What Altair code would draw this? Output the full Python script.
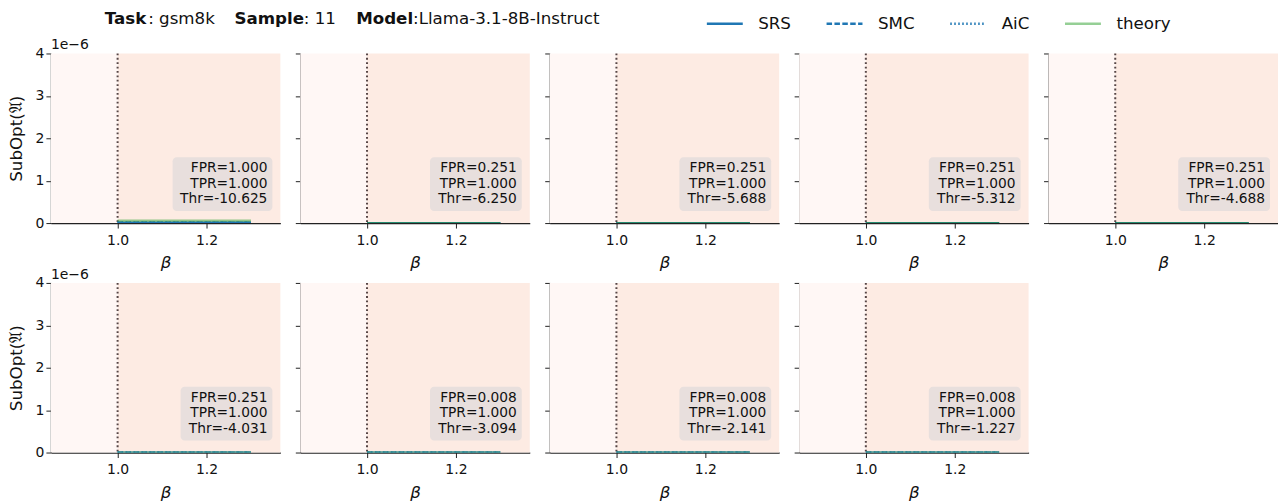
import altair as alt
import pandas as pd

# ---------------- data ----------------
betas = [1.0, 1.1, 1.2, 1.3]
series_names = ["SRS", "SMC", "AiC", "theory"]
series_colors = ["#1f77b4", "#1f77b4", "#1f77b4", "rgba(44,160,44,0.5)"]
series_dash = [[1, 0], [5.5, 2.4], [1.5, 2.5], [1, 0]]

fpr = [1.000, 0.251, 0.251, 0.251, 0.251, 0.251, 0.008, 0.008, 0.008]
tpr = [1.000, 1.000, 1.000, 1.000, 1.000, 1.000, 1.000, 1.000, 1.000]
thr = [-10.625, -6.250, -5.688, -5.312, -4.688, -4.031, -3.094, -2.141, -1.227]

srs = [
    [1.0e-8, 1.0e-8, 1.0e-8, 1.0e-8],
    [0.0, 0.0, 0.0, 0.0],
    [0.0, 0.0, 0.0, 0.0],
    [0.0, 0.0, 0.0, 0.0],
    [0.0, 0.0, 0.0, 0.0],
    [0.0, 0.0, 0.0, 0.0],
    [0.0, 0.0, 0.0, 0.0],
    [0.0, 0.0, 0.0, 0.0],
    [0.0, 0.0, 0.0, 0.0],
]
smc = [
    [1.0e-8, 1.0e-8, 1.0e-8, 1.0e-8],
    [0.0, 0.0, 0.0, 0.0],
    [0.0, 0.0, 0.0, 0.0],
    [0.0, 0.0, 0.0, 0.0],
    [0.0, 0.0, 0.0, 0.0],
    [0.0, 0.0, 0.0, 0.0],
    [0.0, 0.0, 0.0, 0.0],
    [0.0, 0.0, 0.0, 0.0],
    [0.0, 0.0, 0.0, 0.0],
]
aic = [
    [1.0e-8, 1.0e-8, 1.0e-8, 1.0e-8],
    [0.0, 0.0, 0.0, 0.0],
    [0.0, 0.0, 0.0, 0.0],
    [0.0, 0.0, 0.0, 0.0],
    [0.0, 0.0, 0.0, 0.0],
    [0.0, 0.0, 0.0, 0.0],
    [0.0, 0.0, 0.0, 0.0],
    [0.0, 0.0, 0.0, 0.0],
    [0.0, 0.0, 0.0, 0.0],
]
theory = [
    [6.0e-8, 6.0e-8, 6.0e-8, 6.0e-8],
    [1.0e-9, 1.0e-9, 1.0e-9, 1.0e-9],
    [1.0e-9, 1.0e-9, 1.0e-9, 1.0e-9],
    [1.0e-9, 1.0e-9, 1.0e-9, 1.0e-9],
    [1.0e-9, 1.0e-9, 1.0e-9, 1.0e-9],
    [1.0e-9, 1.0e-9, 1.0e-9, 1.0e-9],
    [1.0e-9, 1.0e-9, 1.0e-9, 1.0e-9],
    [1.0e-9, 1.0e-9, 1.0e-9, 1.0e-9],
    [1.0e-9, 1.0e-9, 1.0e-9, 1.0e-9],
]

x_domain = [0.85, 1.366]
beta_split = 1.0
region_colors = ["#fff7f5", "#fdebe3"]
y_ticks = [0, 1e-6, 2e-6, 3e-6, 4e-6]
x_ticks = [1.0, 1.2]

# header text pieces, x relative to first panel's plot area
header_bold = [("Task", 54), ("Sample", 184), ("Model", 306)]
header_norm = [(": gsm8k", 97.5), (": 11", 253.5), (":Llama-3.1-8B-Instruct", 363)]

FONT = "DejaVu Sans"
PW, PH = 230, 170
TITLE_FS = 16.7

xscale = alt.Scale(domain=x_domain, nice=False, zero=False)
yscale = alt.Scale(domain=[0, 4e-6], nice=False, zero=True)

legend = alt.Legend(
    orient="none", legendX=656, legendY=-38, direction="horizontal", columns=4,
    title=None, symbolType="stroke", symbolSize=1296, symbolStrokeWidth=2.5,
    labelFontSize=16.7, labelOffset=14, columnPadding=34, labelFont=FONT,
    labelColor="#111", clipHeight=16,
)


def panel(i, first_col):
    regions = pd.DataFrame({
        "x": [x_domain[0], beta_split],
        "x2": [beta_split, x_domain[1]],
        "c": region_colors,
    })
    rows = []
    for name, vals in zip(series_names, [srs[i], smc[i], aic[i], theory[i]]):
        for b, v in zip(betas, vals):
            rows.append({"beta": b, "val": v, "series": name})
    lines_df = pd.DataFrame(rows)

    xaxis = alt.Axis(values=x_ticks, format=".1f", title="β", titleFontStyle="italic",
                     titleFontWeight="normal", titleFontSize=16.7, titlePadding=8,
                     labelFontSize=14, tickSize=5, labelPadding=5, grid=False)
    if first_col:
        yaxis = alt.Axis(values=y_ticks, labelExpr="format(round(datum.value*1e6), 'd')",
                         title="SubOpt(𝔄)", titleFontWeight="normal", titleFontSize=16.7,
                         titlePadding=10, labelFontSize=14, tickSize=5, grid=False)
    else:
        yaxis = alt.Axis(values=y_ticks, labels=False, title=None, tickSize=5, grid=False)

    bg = alt.Chart(regions).mark_rect(opacity=1).encode(
        x=alt.X("x:Q", scale=xscale, axis=xaxis),
        x2="x2:Q",
        y=alt.value(0),
        y2=alt.value(PH),
        fill=alt.Fill("c:N", scale=None),
    )
    vline = alt.Chart(pd.DataFrame({"x": [beta_split]})).mark_rule(
        color="#574646", strokeDash=[1.8, 2.6], strokeWidth=2
    ).encode(x=alt.X("x:Q", scale=xscale), y=alt.value(0), y2=alt.value(PH))

    lines = alt.Chart(lines_df).mark_line(strokeWidth=2.2, clip=True).encode(
        x=alt.X("beta:Q", scale=xscale),
        y=alt.Y("val:Q", scale=yscale, axis=yaxis),
        color=alt.Color("series:N", scale=alt.Scale(domain=series_names, range=series_colors),
                        legend=legend if i == 0 else None),
        strokeDash=alt.StrokeDash("series:N", scale=alt.Scale(domain=series_names, range=series_dash),
                                  legend=legend if i == 0 else None),
    )

    thr_str = f"Thr={thr[i]:.3f}"
    box_w = len(thr_str) * 8 + 12
    ann_df = pd.DataFrame({"t": [f"FPR={fpr[i]:.3f}\nTPR={tpr[i]:.3f}\n{thr_str}"]})
    box = alt.Chart(ann_df).mark_rect(color="#e8dfdd", cornerRadius=4).encode(
        x=alt.value(222 - box_w), x2=alt.value(222), y=alt.value(104), y2=alt.value(158)
    )
    txt = alt.Chart(ann_df).mark_text(
        align="right", baseline="middle", fontSize=13.8, font=FONT, lineHeight=15.6,
        lineBreak="\n", color="#111"
    ).encode(x=alt.value(217), y=alt.value(115), text="t:N")

    layers = [bg, vline, lines, box, txt]
    if first_col:
        off = alt.Chart(pd.DataFrame({"t": ["1e−6"]})).mark_text(
            align="left", baseline="middle", fontSize=14, font=FONT, color="#111"
        ).encode(x=alt.value(0), y=alt.value(-8), text="t:N")
        layers.append(off)
    if i == 0:
        hb = pd.DataFrame({"t": [t for t, _ in header_bold], "px": [p for _, p in header_bold]})
        hn = pd.DataFrame({"t": [t for t, _ in header_norm], "px": [p for _, p in header_norm]})
        head_b = alt.Chart(hb).mark_text(align="left", baseline="middle", fontSize=TITLE_FS,
                                         fontWeight="bold", font=FONT, color="#111").encode(
            x=alt.X("px:Q", scale=None), y=alt.value(-35), text="t:N")
        head_n = alt.Chart(hn).mark_text(align="left", baseline="middle", fontSize=TITLE_FS,
                                         font=FONT, color="#111").encode(
            x=alt.X("px:Q", scale=None), y=alt.value(-35), text="t:N")
        layers += [head_b, head_n]
    return alt.layer(*layers).properties(width=PW, height=PH)


panels = [panel(i, i in (0, 5)) for i in range(9)]

chart = alt.concat(*panels, columns=5, spacing={"row": 60, "column": 20},
                   bounds="flush").properties(
    padding={"left": 0, "top": 2, "right": 0, "bottom": 0}
).configure_view(stroke=None).configure_axis(
    domainColor="#222", tickColor="#222", labelColor="#111", titleColor="#111",
    labelFont=FONT, titleFont=FONT, domainWidth=1.2,
).configure_text(font=FONT)

chart.save("out.html", embed_options={"renderer": "svg", "actions": False})
